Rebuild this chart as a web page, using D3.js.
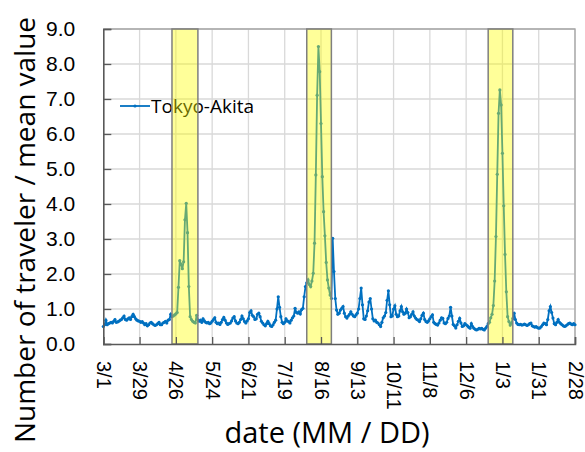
<!DOCTYPE html>
<html>
<head>
<meta charset="utf-8">
<script src="https://cdn.jsdelivr.net/npm/d3@7"></script>
<style>
  body { margin: 0; background: #fff; }
  svg { display: block; font-family: "Open Sans", sans-serif; }
</style>
</head>
<body>
<div id="chart"></div>
<script>
(function () {
    var width = 585, height = 452;

    // daily series, starting at 3/1
    var startDate = "2014-03-01";
    var seriesName = "Tokyo-Akita";
    var values = [
        0.50, 0.55, 0.68, 0.55, 0.58, 0.60, 0.62, 0.60, 0.65, 0.70,
        0.62, 0.63, 0.65, 0.68, 0.70, 0.75, 0.80, 0.70, 0.68, 0.72,
        0.75, 0.70, 0.78, 0.85, 0.78, 0.72, 0.68, 0.66, 0.65, 0.62,
        0.64, 0.60, 0.55, 0.58, 0.52, 0.55, 0.60, 0.62, 0.58, 0.55,
        0.53, 0.55, 0.58, 0.62, 0.55, 0.55, 0.60, 0.62, 0.65, 0.60,
        0.68, 0.70, 0.85, 0.78, 0.80, 0.83, 0.86, 0.90, 1.62, 2.38,
        2.28, 2.15, 2.35, 3.55, 4.02, 3.18, 1.64, 0.78, 0.70, 0.65,
        0.62, 0.60, 0.82, 0.68, 0.65, 0.68, 0.62, 0.72, 0.66, 0.62,
        0.60, 0.62, 0.58, 0.60, 0.65, 0.70, 0.75, 0.62, 0.58, 0.60,
        0.56, 0.62, 0.70, 0.76, 0.68, 0.60, 0.56, 0.58, 0.60, 0.66,
        0.74, 0.78, 0.66, 0.60, 0.58, 0.62, 0.70, 0.80, 0.72, 0.64,
        0.60, 0.66, 0.72, 0.90, 0.95, 0.82, 0.78, 0.70, 0.72, 0.85,
        0.88, 0.78, 0.65, 0.60, 0.55, 0.52, 0.58, 0.65, 0.58, 0.52,
        0.50, 0.55, 0.62, 0.68, 1.00, 1.35, 1.05, 0.78, 0.62, 0.58,
        0.62, 0.72, 0.66, 0.64, 0.60, 0.68, 0.75, 0.80, 1.02, 0.90,
        0.88, 0.92, 0.86, 0.98, 1.02, 1.35, 1.64, 1.75, 1.83, 1.70,
        1.64, 1.80, 2.02, 2.88, 4.83, 7.11, 8.50, 7.78, 6.30, 4.78,
        3.78, 3.09, 2.33, 1.83, 1.60, 1.40, 1.30, 3.02, 2.07, 1.30,
        0.97, 0.85, 0.88, 0.97, 1.02, 1.07, 0.88, 0.78, 0.74, 0.80,
        0.85, 0.92, 0.85, 0.80, 0.78, 0.83, 0.88, 1.00, 1.30, 1.60,
        1.12, 0.72, 0.70, 0.80, 0.95, 1.20, 1.30, 1.00, 0.72, 0.66,
        0.68, 0.62, 0.60, 0.55, 0.50, 0.62, 0.75, 0.80, 0.90, 1.25,
        1.52, 1.12, 0.78, 0.80, 1.00, 1.09, 0.85, 0.78, 0.80, 0.95,
        1.07, 0.92, 0.85, 0.88, 1.00, 0.90, 0.75, 0.78, 0.85, 0.92,
        0.80, 0.74, 0.70, 0.68, 0.64, 0.72, 0.82, 0.88, 0.70, 0.64,
        0.62, 0.66, 0.72, 0.78, 0.83, 0.62, 0.58, 0.56, 0.54, 0.60,
        0.68, 0.75, 0.73, 0.60, 0.58, 0.62, 0.73, 0.80, 1.05, 0.80,
        0.56, 0.52, 0.46, 0.55, 0.65, 0.73, 0.60, 0.50, 0.52, 0.58,
        0.55, 0.52, 0.48, 0.45, 0.58, 0.50, 0.45, 0.42, 0.40, 0.42,
        0.45, 0.43, 0.45, 0.42, 0.40, 0.45, 0.50, 0.58, 0.62, 0.75,
        0.85, 1.10, 1.80, 3.07, 4.85, 6.59, 7.26, 6.83, 5.45, 3.95,
        2.56, 1.49, 0.78, 0.64, 0.54, 0.60, 0.73, 0.88, 0.70, 0.60,
        0.56, 0.55, 0.56, 0.54, 0.55, 0.57, 0.55, 0.53, 0.55, 0.58,
        0.60, 0.52, 0.50, 0.48, 0.50, 0.47, 0.45, 0.46, 0.50, 0.55,
        0.60, 0.58, 0.55, 0.70, 0.95, 1.07, 0.90, 0.74, 0.58, 0.55,
        0.62, 0.70, 0.62, 0.58, 0.55, 0.52, 0.50, 0.52, 0.55, 0.58,
        0.60, 0.57, 0.55, 0.58, 0.55
    ];

    var tickLabels = ["3/1", "3/29", "4/26", "5/24", "6/21", "7/19", "8/16",
        "9/13", "10/11", "11/8", "12/6", "1/3", "1/31", "2/28"];
    var yTicks = [0, 1, 2, 3, 4, 5, 6, 7, 8, 9];

    // holiday periods (shaded)
    var holidays = [
        ["2014-04-23", "2014-05-13"],
        ["2014-08-05", "2014-08-24"],
        ["2014-12-23", "2015-01-11"]
    ];

    var parse = d3.utcParse("%Y-%m-%d");
    var start = parse(startDate);
    var data = values.map(function (v, i) {
        return { date: d3.utcDay.offset(start, i), value: v };
    });
    var tickDates = tickLabels.map(function (s) {
        var p = s.split("/");
        var year = +p[0] < 3 ? 2015 : 2014;
        return new Date(Date.UTC(year, +p[0] - 1, +p[1]));
    });

    var left = 103.3, right = 575, top = 29, bottom = 344;

    var svg = d3.select("#chart")
        .append("svg")
        .attr("width", width)
        .attr("height", height);

    var x = d3.scaleUtc()
        .domain([data[0].date, data[data.length - 1].date])
        .range([left, right]);
    var y = d3.scaleLinear().domain([0, 9]).range([bottom, top]);

    // grid
    svg.append("g").selectAll("line.h")
        .data(yTicks.slice(1))
        .enter().append("line")
        .attr("x1", left).attr("x2", right)
        .attr("y1", function (d) { return y(d); })
        .attr("y2", function (d) { return y(d); })
        .attr("stroke", "#d9d9d9").attr("stroke-width", 1.3);
    svg.append("g").selectAll("line.v")
        .data(tickDates.slice(1))
        .enter().append("line")
        .attr("x1", function (d) { return x(d); })
        .attr("x2", function (d) { return x(d); })
        .attr("y1", top).attr("y2", bottom)
        .attr("stroke", "#d9d9d9").attr("stroke-width", 1.3);

    // plot border (top, right)
    svg.append("path")
        .attr("d", "M" + left + "," + top + "H" + right + "V" + bottom)
        .attr("fill", "none").attr("stroke", "#a6a6a6").attr("stroke-width", 1.3);

    // series
    var line = d3.line()
        .x(function (d) { return x(d.date); })
        .y(function (d) { return y(d.value); });
    svg.append("path")
        .datum(data)
        .attr("d", line)
        .attr("fill", "none")
        .attr("stroke", "#0070c0")
        .attr("stroke-width", 1.8);
    svg.append("g").selectAll("circle")
        .data(data)
        .enter().append("circle")
        .attr("cx", function (d) { return x(d.date); })
        .attr("cy", function (d) { return y(d.value); })
        .attr("r", 1.6)
        .attr("fill", "#0070c0");

    // legend
    var lg = svg.append("g").attr("transform", "translate(120,106)");
    lg.append("line").attr("x1", 0).attr("x2", 30)
        .attr("stroke", "#0070c0").attr("stroke-width", 1.8);
    lg.append("circle").attr("cx", 15).attr("r", 1.6).attr("fill", "#0070c0");
    lg.append("text").attr("x", 31).attr("dy", "0.35em")
        .attr("font-size", 19).attr("fill", "#000").text(seriesName);

    // shaded holidays, drawn over the line
    svg.append("g").selectAll("rect")
        .data(holidays)
        .enter().append("rect")
        .attr("x", function (d) { return x(parse(d[0])); })
        .attr("width", function (d) { return x(parse(d[1])) - x(parse(d[0])); })
        .attr("y", top)
        .attr("height", bottom - top)
        .attr("fill", "rgba(255,255,0,0.4)")
        .attr("stroke", "#7f7f7f")
        .attr("stroke-width", 1.5);

    // axes
    var xAxis = svg.append("g")
        .attr("transform", "translate(0," + bottom + ")")
        .call(d3.axisBottom(x).tickValues(tickDates).tickSize(-7).tickFormat(function (d, i) { return tickLabels[i]; }));
    xAxis.select(".domain").attr("stroke", "#595959").attr("stroke-width", 1.6);
    xAxis.selectAll(".tick line").attr("stroke", "#595959").attr("stroke-width", 1.3);
    xAxis.selectAll(".tick text")
        .attr("font-size", 20)
        .attr("fill", "#000")
        .attr("text-anchor", "start")
        .attr("transform", "translate(0,17) rotate(90)")
        .attr("x", 0).attr("y", 0).attr("dy", "0.35em");

    var yAxis = svg.append("g")
        .attr("transform", "translate(" + left + ",0)")
        .call(d3.axisLeft(y).tickValues(yTicks).tickSize(-8).tickPadding(28).tickFormat(d3.format(".1f")));
    yAxis.select(".domain").attr("stroke", "#595959").attr("stroke-width", 1.6);
    yAxis.selectAll(".tick line").attr("stroke", "#595959").attr("stroke-width", 1.3);
    yAxis.selectAll(".tick text").attr("font-size", 21).attr("fill", "#000");

    // titles
    svg.append("text")
        .attr("transform", "translate(35,230) rotate(-90)")
        .attr("text-anchor", "middle")
        .attr("font-size", 28)
        .text("Number of traveler / mean value");
    svg.append("text")
        .attr("x", 327).attr("y", 443)
        .attr("text-anchor", "middle")
        .attr("font-size", 29)
        .text("date (MM / DD)");
})();
</script>
</body>
</html>
